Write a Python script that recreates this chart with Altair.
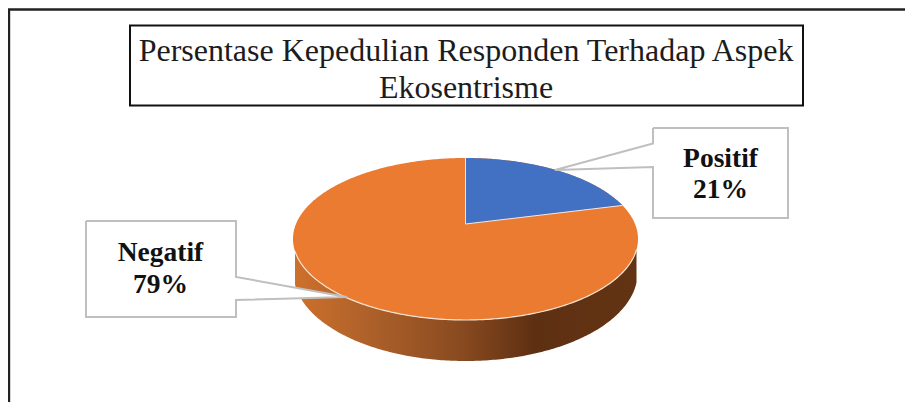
import altair as alt
import numpy as np
import pandas as pd

# Data
categories = ["Positif", "Negatif"]
shares = [21, 79]
title_lines = ["Persentase Kepedulian Responden Terhadap Aspek", "Ekosentrisme"]

# Layout (image pixels, mapped through the scales below)
CX, CY, RX, RY = 465.5, 239.0, 172.5, 81.0
BOT_CY, BOT_RY, BOT_RX = 273.0, 88.0, 172.0
PERSP = 0.185

X = alt.Scale(domain=[8, 905], nice=False, zero=False)
Y = alt.Scale(domain=[402, 8], nice=False, zero=False)


def xe(name="x"):
    return alt.X(f"{name}:Q", scale=X, axis=None)


def ye(name="y"):
    return alt.Y(f"{name}:Q", scale=Y, axis=None)


def project(share):
    a = np.radians(share / 100 * 360)
    x0, y0 = np.sin(a), np.cos(a)
    den = 1 + PERSP * y0
    return x0 * np.sqrt(1 - PERSP**2) / den, (y0 + PERSP) / den


def top_half(u):
    return CY - RY * np.sqrt(np.clip(1 - u**2, 0, 1))


def low_half(u):
    return CY + RY * np.sqrt(np.clip(1 - u**2, 0, 1))


# ---- pie geometry derived from the shares
ue = np.sin(np.linspace(-np.pi / 2, np.pi / 2, 241))
top_df = pd.DataFrame({"x": CX + RX * ue, "y": top_half(ue), "y2": low_half(ue)})

xs = np.sin(np.linspace(np.arcsin((295 - CX) / RX), np.arcsin((636.5 - CX) / RX), 200))
side_df = pd.DataFrame({
    "x": CX + RX * xs,
    "y": low_half(xs),
    "y2": BOT_CY + BOT_RY * np.sqrt(np.clip(1 - (RX * xs / BOT_RX) ** 2, 0, 1)),
})

ex, ey = project(shares[0])
apex_y = CY - RY * PERSP
end_y = CY - RY * ey
t = np.linspace(0, np.arcsin(ex), 80)
ub = np.sin(t)
blue_df = pd.DataFrame({
    "x": CX + RX * ub,
    "y": top_half(ub),
    "y2": apex_y + (end_y - apex_y) * (ub / ex),
})
edge_df = pd.DataFrame({
    "x": [CX, CX, CX + RX * ex],
    "y": [CY - RY, apex_y, end_y],
    "o": [0, 1, 2],
})
rim_df = side_df[["x", "y"]].assign(o=range(len(side_df)))

side = alt.Chart(side_df).mark_area(
    orient="vertical",
    color=alt.Gradient(
        gradient="linear", x1=0, x2=1, y1=0, y2=0,
        stops=[
            alt.GradientStop(color="#CE702C", offset=0),
            alt.GradientStop(color="#B0622A", offset=0.2),
            alt.GradientStop(color="#8A4B20", offset=0.48),
            alt.GradientStop(color="#5E3012", offset=0.7),
            alt.GradientStop(color="#633413", offset=1),
        ],
    ),
).encode(x=xe(), y=ye(), y2="y2:Q")
top = alt.Chart(top_df).mark_area(orient="vertical", color="#EA7B30").encode(x=xe(), y=ye(), y2="y2:Q")
blue = alt.Chart(blue_df).mark_area(orient="vertical", color="#4270C2").encode(x=xe(), y=ye(), y2="y2:Q")
edge = alt.Chart(edge_df).mark_line(color="#F4E9E0", strokeWidth=1).encode(x=xe(), y=ye(), order="o:Q")
rim = alt.Chart(rim_df).mark_line(color="#F6E3D3", strokeWidth=1.2).encode(x=xe(), y=ye(), order="o:Q")

# ---- frame and title box
frame_df = pd.DataFrame({"x": [9, 9, 905], "y": [402, 9.5, 9.5], "o": [0, 1, 2]})
frame = alt.Chart(frame_df).mark_line(color="#222222", strokeWidth=2.4).encode(x=xe(), y=ye(), order="o:Q")

title_box_df = pd.DataFrame({"x": [130], "x2": [803], "y": [25.5], "y2": [105.5]})
title_box = alt.Chart(title_box_df).mark_rect(
    fill="white", stroke="#111111", strokeWidth=2
).encode(x=xe(), x2="x2:Q", y=ye(), y2="y2:Q")
title_df = pd.DataFrame({"x": [466, 466], "y": [60.5, 97.5], "t": title_lines})
title = alt.Chart(title_df).mark_text(
    font="Liberation Serif", fontSize=32, align="center", baseline="alphabetic", color="#1C1C1C"
).encode(x=xe(), y=ye(), text="t:N")

# ---- callouts
box_df = pd.DataFrame({
    "x": [653, 86], "x2": [788, 236], "y": [128, 221], "y2": [218, 317],
})
boxes = alt.Chart(box_df).mark_rect(fill="white").encode(x=xe(), x2="x2:Q", y=ye(), y2="y2:Q")

ptr_pos = pd.DataFrame({"x": [555, 653], "y": [170, 143.5], "y2": [170, 167]})
ptr_neg = pd.DataFrame({"x": [236, 347], "y": [277, 297], "y2": [300, 297]})
ptr1 = alt.Chart(ptr_pos).mark_area(orient="vertical", color="white").encode(x=xe(), y=ye(), y2="y2:Q")
ptr2 = alt.Chart(ptr_neg).mark_area(orient="vertical", color="white").encode(x=xe(), y=ye(), y2="y2:Q")

out_pos = pd.DataFrame({
    "x": [653, 788, 788, 653, 653, 555, 653, 653],
    "y": [128, 128, 218, 218, 167, 170, 143.5, 128],
})
out_neg = pd.DataFrame({
    "x": [86, 236, 236, 347, 236, 236, 86, 86],
    "y": [221, 221, 277, 297, 300, 317, 317, 221],
})
out_pos["o"] = range(len(out_pos))
out_neg["o"] = range(len(out_neg))
line1 = alt.Chart(out_pos).mark_line(color="#BFBFBF", strokeWidth=2).encode(x=xe(), y=ye(), order="o:Q")
line2 = alt.Chart(out_neg).mark_line(color="#BFBFBF", strokeWidth=2).encode(x=xe(), y=ye(), order="o:Q")

label_df = pd.DataFrame({
    "x": [720.5, 720.5, 160.5, 160.5],
    "y": [167, 198, 261, 293],
    "t": [categories[0], f"{shares[0]}%", categories[1], f"{shares[1]}%"],
})
labels = alt.Chart(label_df).mark_text(
    font="Liberation Serif", fontSize=27.5, fontWeight="bold",
    align="center", baseline="alphabetic", color="#111111",
).encode(x=xe(), y=ye(), text="t:N")

chart = alt.layer(
    frame, title_box, title, side, top, blue, edge, rim,
    boxes, ptr1, ptr2, line1, line2, labels,
).properties(
    width=897, height=394, padding=0, autosize=alt.AutoSizeParams(type="none"), background="white",
).configure_view(stroke=None)

chart.save("out.html", embed_options={"renderer": "svg", "actions": False})
